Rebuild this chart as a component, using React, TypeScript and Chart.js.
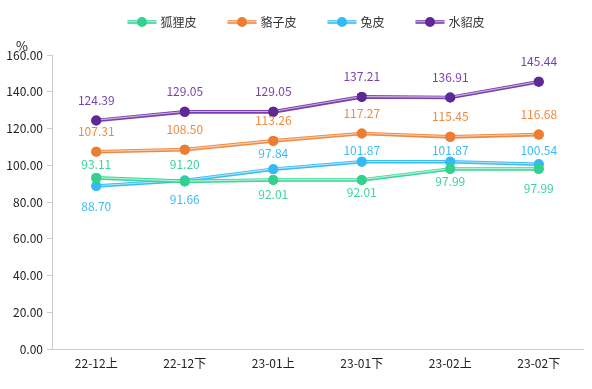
import React, { useEffect, useRef } from "react";
import { Chart, registerables } from "chart.js";

Chart.register(...registerables);

const categories = ["22-12上", "22-12下", "23-01上", "23-01下", "23-02上", "23-02下"];
const foxValues = [93.11, 91.2, 92.01, 92.01, 97.99, 97.99];
const raccoonValues = [107.31, 108.5, 113.26, 117.27, 115.45, 116.68];
const rabbitValues = [88.7, 91.66, 97.84, 101.87, 101.87, 100.54];
const minkValues = [124.39, 129.05, 129.05, 137.21, 136.91, 145.44];
const seriesNames = ["狐狸皮", "貉子皮", "兔皮", "水貂皮"];
const yTicks = [0, 20, 40, 60, 80, 100, 120, 140, 160];

const FONT = '"Microsoft YaHei", "Noto Sans CJK SC", sans-serif';

// label placement (style): negative = above, positive = below (px)
const labelOffsets = [
  [-13, -17, 15, 13, 12, 19],
  [-20, -20, -20, -20, -20, -20],
  [20, 19, -16, -11, -11, -14],
  [-20, -20, -20, -20, -20, -20],
];

const styles = [
  { line: "#3dd598", point: "#34d08e", text: "#3dd598" },
  { line: "#ef8a43", point: "#ed7d31", text: "#ef8a43" },
  { line: "#3cbcf5", point: "#33b9f5", text: "#3cbcf5" },
  { line: "#7a3fae", point: "#5e2896", text: "#7b3fb0" },
];

function stripe(ctx: any, pts: { x: number; y: number }[]) {
  ctx.save();
  ctx.lineJoin = "round";
  ctx.strokeStyle = "rgba(255,255,255,0.6)";
  ctx.lineWidth = 1.1;
  ctx.beginPath();
  pts.forEach((p, j) => (j === 0 ? ctx.moveTo(p.x, p.y - 0.3) : ctx.lineTo(p.x, p.y - 0.3)));
  ctx.stroke();
  ctx.restore();
}

const overlayPlugin = {
  id: "overlay",
  afterDatasetDraw(chart: any, args: any) {
    const meta = args.meta;
    stripe(chart.ctx, meta.data.map((p: any) => ({ x: p.x, y: p.y })));
    meta.data.forEach((p: any) => p.draw(chart.ctx, chart.chartArea));
  },
  afterDatasetsDraw(chart: any) {
    const ctx = chart.ctx;
    ctx.save();
    // data labels
    ctx.font = `12px ${FONT}`;
    ctx.textAlign = "center";
    ctx.textBaseline = "middle";
    chart.data.datasets.forEach((ds: any, i: number) => {
      const meta = chart.getDatasetMeta(i);
      ctx.fillStyle = styles[i].text;
      meta.data.forEach((p: any, j: number) => {
        ctx.fillText(Number(ds.data[j]).toFixed(2), p.x, p.y + labelOffsets[i][j]);
      });
    });
    // y axis unit
    const ys = chart.scales.y;
    ctx.fillStyle = "#222";
    ctx.font = `13px ${FONT}`;
    ctx.fillText("%", ys.left + 22, chart.chartArea.top - 9);

    // legend
    ctx.font = `12px ${FONT}`;
    const iconW = 29;
    const gapText = 4;
    const gapItem = 31;
    const widths = seriesNames.map((n) => iconW + gapText + ctx.measureText(n).width);
    const total = widths.reduce((a, b) => a + b, 0) + gapItem * (seriesNames.length - 1);
    let x = chart.width / 2 + 10 - total / 2;
    const y = 22;
    seriesNames.forEach((n, i) => {
      ctx.save();
      ctx.strokeStyle = styles[i].line;
      ctx.lineWidth = 3.6;
      ctx.beginPath();
      ctx.moveTo(x, y);
      ctx.lineTo(x + iconW, y);
      ctx.stroke();
      ctx.restore();
      stripe(ctx, [{ x, y }, { x: x + iconW, y }]);
      ctx.fillStyle = styles[i].point;
      ctx.beginPath();
      ctx.arc(x + iconW / 2, y, 5, 0, Math.PI * 2);
      ctx.fill();
      ctx.fillStyle = "#333";
      ctx.textAlign = "left";
      ctx.fillText(n, x + iconW + gapText, y);
      x += widths[i] + gapItem;
    });
    ctx.restore();
  },
};

export default function App() {
  const ref = useRef<HTMLCanvasElement>(null);
  useEffect(() => {
    document.body.style.margin = "0";
    const allValues = [foxValues, raccoonValues, rabbitValues, minkValues];
    const chart = new Chart(ref.current!, {
      type: "line",
      data: {
        labels: categories,
        datasets: allValues.map((vals, i) => ({
          label: seriesNames[i],
          data: vals,
          borderColor: styles[i].line,
          backgroundColor: styles[i].point,
          borderWidth: 3.6,
          pointRadius: 5,
          pointBorderWidth: 0,
          pointBackgroundColor: styles[i].point,
          pointBorderColor: styles[i].point,
          tension: 0,
          fill: false,
        })),
      },
      options: {
        responsive: false,
        animation: false,
        layout: { padding: { left: 0, right: 9, top: 55, bottom: 0 } },
        plugins: {
          tooltip: { enabled: false },
          legend: { display: false },
        },
        scales: {
          x: {
            offset: true,
            grid: { display: false, drawTicks: false },
            border: { color: "#ccc" },
            ticks: { color: "#222", font: { size: 12, family: FONT }, padding: 7 },
            afterFit(scale: any) {
              scale.height = 40;
            },
          },
          y: {
            min: 0,
            max: 160,
            afterBuildTicks(scale: any) {
              scale.ticks = yTicks.map((v) => ({ value: v }));
            },
            grid: { drawOnChartArea: false, drawTicks: true, tickLength: 5, color: "#ccc" },
            border: { color: "#ccc" },
            ticks: {
              color: "#222",
              font: { size: 12, family: FONT },
              padding: 4,
              callback: (v: any) => Number(v).toFixed(2),
            },
            afterFit(scale: any) {
              scale.width = 52;
            },
          },
        },
      },
      plugins: [overlayPlugin],
    });
    return () => chart.destroy();
  }, []);
  return (
    <div style={{ width: 592, height: 389 }}>
      <canvas ref={ref} width={592} height={389} style={{ display: "block" }} />
    </div>
  );
}
